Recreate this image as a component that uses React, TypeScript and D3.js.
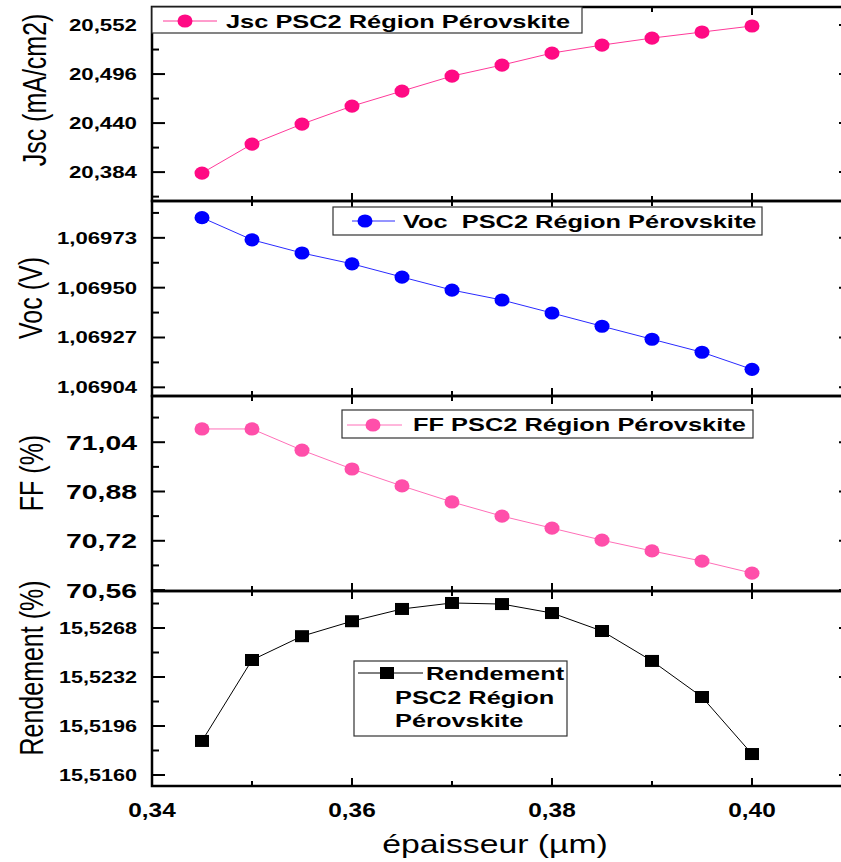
import React from "react";
import * as d3 from "d3";

const xValues = [0.345, 0.35, 0.355, 0.36, 0.365, 0.37, 0.375, 0.38, 0.385, 0.39, 0.395, 0.4];
const jscValues = [20.3829, 20.416, 20.4389, 20.4594, 20.4766, 20.4937, 20.5063, 20.52, 20.5291, 20.5371, 20.544, 20.5509];
const vocValues = [1.069823, 1.069721, 1.06966, 1.06961, 1.069549, 1.069489, 1.069443, 1.069383, 1.069322, 1.069262, 1.069202, 1.069123];
const ffValues = [71.083, 71.083, 71.014, 70.953, 70.898, 70.846, 70.8, 70.761, 70.722, 70.687, 70.654, 70.615];
const rendValues = [15.5185, 15.52445, 15.5262, 15.5273, 15.5282, 15.52864, 15.52856, 15.5279, 15.52658, 15.52438, 15.52173, 15.51754];

const jscTicks = [20.384, 20.44, 20.496, 20.552];
const vocTicks = [1.06904, 1.06927, 1.0695, 1.06973];
const ffTicks = [70.56, 70.72, 70.88, 71.04];
const rendTicks = [15.516, 15.5196, 15.5232, 15.5268];
const xMajorTicks = [0.34, 0.36, 0.38, 0.4];
const xMinorTicks = [0.35, 0.37, 0.39, 0.41];

const jscLegend = ["Jsc PSC2 Région Pérovskite"];
const vocLegend = ["Voc  PSC2 Région Pérovskite"];
const ffLegend = ["FF PSC2 Région Pérovskite"];
const rendLegend = ["Rendement", "PSC2 Région", "Pérovskite"];

const SX = 1.35;
const FONT = "'Liberation Sans', Arial, Helvetica, sans-serif";

const X0 = 152;
const X1 = 852;
const x = d3.scaleLinear().domain([0.34, 0.41]).range([X0, X1]);

type Panel = {
  values: number[];
  domain: [number, number];
  range: [number, number];
  ticks: number[];
  decimals: number;
  tickFont: number;
  title: string;
  titleX: number;
  titleY: number;
  color: string;
  lineColor: string;
  marker: "circle" | "square";
  legend: string[];
  legendBox: [number, number, number, number];
  legendSym: [number, number, number, number];
  legendText: [number, number, number];
};

const panels: Panel[] = [
  {
    values: jscValues, domain: [20.351, 20.5726], range: [201, 7], ticks: jscTicks, decimals: 3, tickFont: 16.5,
    title: "Jsc (mA/cm2)", titleX: 46, titleY: 90, color: "#FF0A84", lineColor: "#FF3A9A", marker: "circle",
    legend: jscLegend, legendBox: [152, 7, 582, 33], legendSym: [163, 217, 185, 21], legendText: [226, 28, 0],
  },
  {
    values: vocValues, domain: [1.069, 1.0699], range: [396, 201], ticks: vocTicks, decimals: 5, tickFont: 16.4,
    title: "Voc (V)", titleX: 42, titleY: 298, color: "#0000FF", lineColor: "#2A2AFF", marker: "circle",
    legend: vocLegend, legendBox: [333, 207, 762, 235], legendSym: [352, 395, 365, 221], legendText: [403, 228, 0],
  },
  {
    values: ffValues, domain: [70.557, 71.19], range: [591, 396], ticks: ffTicks, decimals: 2, tickFont: 21,
    title: "FF (%)", titleX: 43, titleY: 473, color: "#FF4FAA", lineColor: "#FF6FB8", marker: "circle",
    legend: ffLegend, legendBox: [342, 410, 753, 438], legendSym: [347, 402, 373, 425], legendText: [413, 431, 0],
  },
  {
    values: rendValues, domain: [15.51519, 15.52952], range: [786, 591], ticks: rendTicks, decimals: 4, tickFont: 16,
    title: "Rendement (%)", titleX: 43, titleY: 668, color: "#000000", lineColor: "#000000", marker: "square",
    legend: rendLegend, legendBox: [354, 661, 567, 736], legendSym: [358, 423, 387, 673], legendText: [426, 680, 23.5],
  },
];

function fmt(v: number, d: number) {
  return d3.format(`.${d}f`)(v).replace(".", ",");
}

function STxt(props: {
  x: number; y: number; size: number; weight?: string | number; anchor?: string; rotate?: boolean; children: React.ReactNode; fill?: string; sx?: number;
}) {
  const { x: tx, y: ty, size, weight = "normal", anchor = "start", rotate = false, children, fill = "#000", sx = SX } = props;
  return (
    <text
      transform={`translate(${tx},${ty}) scale(${sx},1)${rotate ? " rotate(-90)" : ""}`}
      fontSize={size}
      fontWeight={weight}
      textAnchor={anchor}
      fontFamily={FONT}
      fill={fill}
      style={{ whiteSpace: "pre" }}
    >
      {children}
    </text>
  );
}

function Marker({ kind, cx, cy, color }: { kind: string; cx: number; cy: number; color: string }) {
  if (kind === "square") return <rect x={cx - 7} y={cy - 6} width={14} height={12} fill={color} />;
  return <ellipse cx={cx} cy={cy} rx={7.5} ry={6.6} fill={color} />;
}

function PanelView({ p }: { p: Panel }) {
  const y = d3.scaleLinear().domain(p.domain).range(p.range);
  const step = p.ticks[1] - p.ticks[0];
  const minor: number[] = [];
  for (let v = p.ticks[0] - step / 2; v <= p.domain[1] + 1e-12; v += step) {
    if (v >= p.domain[0] - 1e-12) minor.push(v);
  }
  const line = d3.line<number>().x((_, i) => x(xValues[i])).y((d) => y(d));
  const top = p.range[1];
  const bottom = p.range[0];
  const [lx1, ly1, lx2, ly2] = p.legendBox;
  const [sx1, sx2, scx, scy] = p.legendSym;
  const [tx, ty, gap] = p.legendText;
  return (
    <g>
      {p.ticks.map((t) => (
        <line key={"mj" + t} x1={X0} x2={X0 + 13} y1={y(t)} y2={y(t)} stroke="#000" strokeWidth={2} />
      ))}
      {minor.map((t) => (
        <line key={"mn" + t} x1={X0} x2={X0 + 7} y1={y(t)} y2={y(t)} stroke="#000" strokeWidth={2} />
      ))}
      {p.ticks.map((t) => (
        <line key={"rj" + t} x1={X1} x2={X1 - 13} y1={y(t)} y2={y(t)} stroke="#000" strokeWidth={2} />
      ))}
      {xMajorTicks.map((t) => (
        <g key={"xt" + t}>
          <line x1={x(t)} x2={x(t)} y1={top} y2={top + 8} stroke="#000" strokeWidth={2} />
          <line x1={x(t)} x2={x(t)} y1={bottom} y2={bottom - 8} stroke="#000" strokeWidth={2} />
        </g>
      ))}
      {xMinorTicks.map((t) => (
        <g key={"xm" + t}>
          <line x1={x(t)} x2={x(t)} y1={top} y2={top + 5} stroke="#000" strokeWidth={2} />
          <line x1={x(t)} x2={x(t)} y1={bottom} y2={bottom - 5} stroke="#000" strokeWidth={2} />
        </g>
      ))}
      {p.ticks.map((t) => (
        <STxt key={"tl" + t} x={137} y={y(t) + p.tickFont * 0.36} size={p.tickFont} weight="bold" anchor="end">
          {fmt(t, p.decimals)}
        </STxt>
      ))}
      <STxt x={p.titleX} y={p.titleY} size={25} anchor="middle" rotate>
        {p.title}
      </STxt>
      <path d={line(p.values) || ""} fill="none" stroke={p.lineColor} strokeWidth={1} />
      {p.values.map((v, i) => (
        <Marker key={"m" + i} kind={p.marker} cx={x(xValues[i])} cy={y(v)} color={p.color} />
      ))}
      <rect x={X0} y={top} width={X1 - X0} height={bottom - top} fill="none" stroke="#000" strokeWidth={2.5} />
      <rect x={lx1} y={ly1} width={lx2 - lx1} height={ly2 - ly1} fill="#fff" stroke="#333" strokeWidth={1.2} />
      <line x1={sx1} x2={sx2} y1={scy} y2={scy} stroke={p.lineColor} strokeWidth={1} />
      <Marker kind={p.marker} cx={scx} cy={scy} color={p.color} />
      {p.legend.map((s, i) => (
        <STxt key={"lg" + i} x={i === 0 ? tx : 395} y={ty + i * gap} size={18.8} weight="bold">
          {s}
        </STxt>
      ))}
    </g>
  );
}

export default function App() {
  return (
    <div style={{ position: "absolute", left: 0, top: 0, width: 841, height: 862, background: "#fff" }}>
      <svg width={841} height={862} style={{ display: "block" }}>
        <rect x={0} y={0} width={841} height={862} fill="#fff" />
        {panels.map((p, i) => (
          <PanelView key={i} p={p} />
        ))}
        {xMajorTicks.map((t) => (
          <STxt key={"xl" + t} x={x(t)} y={817} size={19.5} weight="bold" anchor="middle" sx={1.25}>
            {fmt(t, 2)}
          </STxt>
        ))}
        <STxt x={495} y={853} size={25} anchor="middle">
          épaisseur (µm)
        </STxt>
      </svg>
    </div>
  );
}
